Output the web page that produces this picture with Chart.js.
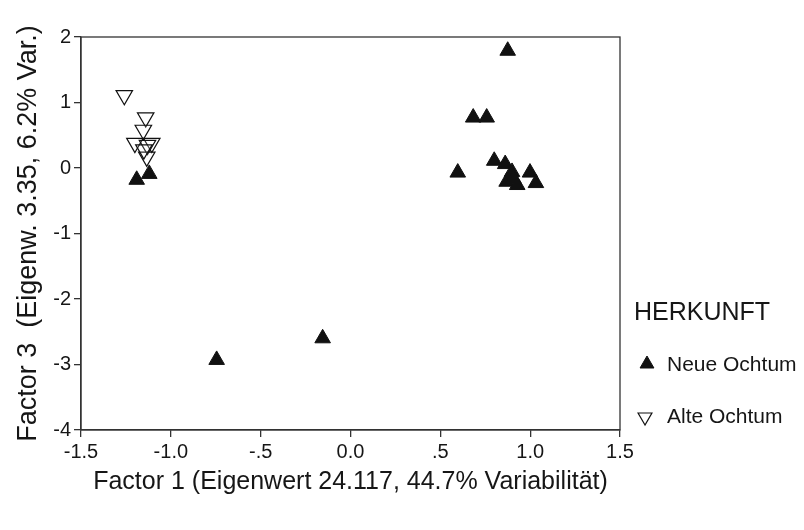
<!DOCTYPE html>
<html>
<head>
<meta charset="utf-8">
<script src="https://cdn.jsdelivr.net/npm/chart.js@4.4.1/dist/chart.umd.min.js"></script>
<style>
  html, body { margin: 0; padding: 0; background: #fff; }
  #wrap { width: 804px; height: 530px; }
</style>
</head>
<body>
<div id="wrap"><canvas id="myChart" width="804" height="530"></canvas></div>
<script>
// Neue Ochtum (filled up triangles)
const neueX = [-1.19, -1.12, -0.745, -0.155, 0.875, 0.683, 0.758, 0.597, 0.80, 0.861, 0.899, 0.999, 0.869, 0.928, 1.032, 0.906];
const neueY = [-0.18, -0.09, -2.93, -2.60, 1.79, 0.77, 0.77, -0.07, 0.11, 0.06, -0.06, -0.07, -0.21, -0.26, -0.23, -0.16];
// Alte Ochtum (open down triangles)
const alteX = [-1.259, -1.14, -1.153, -1.20, -1.106, -1.13, -1.134, -1.15];
const alteY = [1.11, 0.77, 0.58, 0.38, 0.38, 0.35, 0.17, 0.28];

const xTicks = [-1.5, -1.0, -0.5, 0.0, 0.5, 1.0, 1.5];
const xTickLabels = ["-1.5", "-1.0", "-.5", "0.0", ".5", "1.0", "1.5"];
const yTicks = [2, 1, 0, -1, -2, -3, -4];

const legendTitle = "HERKUNFT";
const xTitle = "Factor 1 (Eigenwert 24.117, 44.7% Variabilität)";
const yTitle = "Factor 3  (Eigenw. 3.35, 6.2% Var.)";

const ink = "#161616";
const fontFamily = "'Liberation Sans', Arial, sans-serif";

function toPoints(xs, ys) {
    return xs.map((x, i) => ({ x: x, y: ys[i] }));
}

// frame around the plot area
const framePlugin = {
    id: "frame",
    afterDatasetsDraw(chart) {
        const a = chart.chartArea;
        const c = chart.ctx;
        c.save();
        c.strokeStyle = "#333";
        c.lineWidth = 1.3;
        c.strokeRect(a.left, a.top, a.right - a.left, a.bottom - a.top);
        c.restore();
    }
};

// legend drawn to the right of the plot
const sideLegend = {
    id: "sideLegend",
    afterDraw(chart) {
        const c = chart.ctx;
        c.save();
        c.fillStyle = ink;
        c.textBaseline = "middle";
        c.font = "25px " + fontFamily;
        c.fillText(legendTitle, 634, 313);
        const rows = [
            { y: 365, sx: 647, sy: 364 },
            { y: 417, sx: 645, sy: 417 }
        ];
        chart.data.datasets.forEach((ds, i) => {
            const r = rows[i];
            c.fillStyle = ds.backgroundColor;
            c.strokeStyle = ds.borderColor;
            c.lineWidth = ds.borderWidth;
            Chart.helpers.drawPoint(c, {
                pointStyle: "triangle",
                radius: 8,
                rotation: ds.rotation,
                borderWidth: ds.borderWidth
            }, r.sx, r.sy);
            c.fillStyle = ink;
            c.font = "21px " + fontFamily;
            c.fillText(ds.label, 667, r.y);
        });
        c.restore();
    }
};

new Chart(document.getElementById("myChart").getContext("2d"), {
    type: "scatter",
    data: {
        datasets: [{
            label: "Neue Ochtum",
            data: toPoints(neueX, neueY),
            pointStyle: "triangle",
            pointRadius: 9,
            pointHoverRadius: 9,
            rotation: 0,
            backgroundColor: "#111",
            borderColor: "#111",
            borderWidth: 1
        }, {
            label: "Alte Ochtum",
            data: toPoints(alteX, alteY),
            pointStyle: "triangle",
            pointRadius: 9.5,
            pointHoverRadius: 9.5,
            rotation: 180,
            backgroundColor: "rgba(255,255,255,0.15)",
            borderColor: "#111",
            borderWidth: 1.2
        }]
    },
    options: {
        responsive: false,
        animation: false,
        layout: { padding: { left: 0, top: 37, right: 184, bottom: 0 } },
        plugins: {
            legend: { display: false },
            tooltip: { enabled: false }
        },
        scales: {
            x: {
                type: "linear",
                min: -1.5,
                max: 1.5,
                afterBuildTicks: axis => { axis.ticks = xTicks.map(v => ({ value: v })); },
                afterFit: axis => { axis.height = 100; },
                border: { display: true, color: "#333", width: 1.3 },
                grid: { drawOnChartArea: false, drawTicks: true, tickLength: 7, color: "#333", lineWidth: 1.3 },
                ticks: {
                    color: ink,
                    padding: 3,
                    maxRotation: 0,
                    font: { family: fontFamily, size: 20 },
                    callback: (v) => xTickLabels[xTicks.indexOf(v)] ?? ""
                },
                title: {
                    display: true,
                    text: xTitle,
                    color: ink,
                    font: { family: fontFamily, size: 25 },
                    padding: { top: 33, bottom: 33 }
                }
            },
            y: {
                type: "linear",
                min: -4,
                max: 2,
                afterBuildTicks: axis => { axis.ticks = yTicks.map(v => ({ value: v })); },
                afterFit: axis => { axis.width = 81; },
                border: { display: true, color: "#333", width: 1.3 },
                grid: { drawOnChartArea: false, drawTicks: true, tickLength: 7, color: "#333", lineWidth: 1.3 },
                ticks: {
                    color: ink,
                    padding: 3,
                    font: { family: fontFamily, size: 20 },
                    callback: (v) => String(v)
                },
                title: {
                    display: true,
                    text: yTitle,
                    color: ink,
                    font: { family: fontFamily, size: 27 },
                    padding: { top: 12, bottom: 12 }
                }
            }
        }
    },
    plugins: [framePlugin, sideLegend]
});
</script>
</body>
</html>
